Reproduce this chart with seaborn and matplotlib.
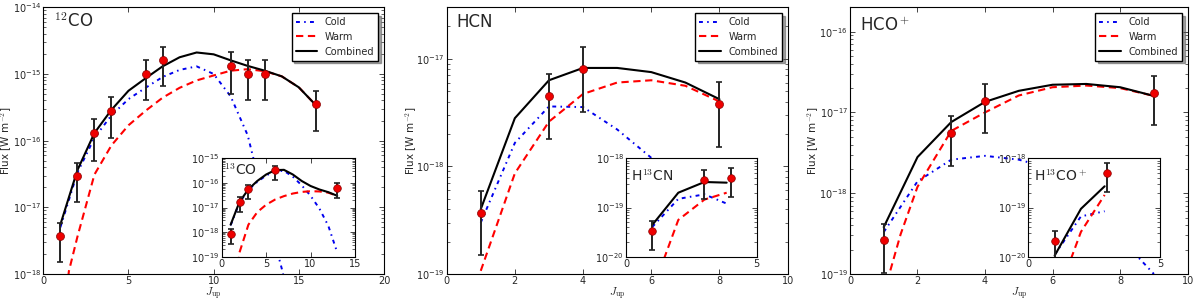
import numpy as np
import pandas as pd
import matplotlib
matplotlib.use("Agg")
import matplotlib.pyplot as plt
import seaborn as sns

sns.set_style("ticks", {"xtick.direction": "in", "ytick.direction": "in",
                        "axes.edgecolor": "black"})
plt.rcParams["font.family"] = ["DejaVu Sans"]
plt.rcParams["mathtext.fontset"] = "cm"

# ---------------- 12CO (main panel 1) ----------------
co12_obs_j = [1, 2, 3, 4, 6, 7, 11, 12, 13, 16]
co12_obs_f = [3.7e-18, 2.9e-17, 1.3e-16, 2.8e-16, 1.0e-15, 1.6e-15, 1.3e-15, 1.0e-15, 1.0e-15, 3.5e-16]
co12_obs_e = [2.2e-18, 1.7e-17, 8.0e-17, 1.7e-16, 6.0e-16, 9.5e-16, 8.0e-16, 6.0e-16, 6.0e-16, 2.1e-16]
co12_j = [1, 2, 3, 4, 5, 6, 7, 8, 9, 10, 11, 12, 13, 14, 15, 16]
co12_cold = [5.0e-18, 3.3e-17, 1.1e-16, 2.4e-16, 4.2e-16, 6.2e-16, 9.0e-16, 1.15e-15, 1.3e-15,
             1.0e-15, 4.6e-16, 1.2e-16, 1.1e-17, 1.2e-18, 1.0e-19, 8.0e-21]
co12_comb = [5.5e-18, 3.6e-17, 1.3e-16, 2.9e-16, 5.6e-16, 8.6e-16, 1.3e-15, 1.78e-15, 2.1e-15,
             1.97e-15, 1.6e-15, 1.32e-15, 1.12e-15, 9.2e-16, 6.3e-16, 3.4e-16]
co12_warm_j = [1.2, 1.5, 2, 3, 4, 5, 6, 7, 8, 9, 10, 11, 12, 13, 14, 15, 16]
co12_warm = [2.0e-19, 1.1e-18, 3.6e-18, 3.1e-17, 8.5e-17, 1.7e-16, 2.8e-16, 4.4e-16, 6.2e-16,
             8.0e-16, 9.5e-16, 1.12e-15, 1.18e-15, 1.1e-15, 9.2e-16, 6.3e-16, 3.4e-16]

# ---------------- 13CO (inset 1) ----------------
co13_obs_j = [1, 2, 3, 6, 13]
co13_obs_f = [8.0e-19, 1.6e-17, 5.4e-17, 3.2e-16, 6.0e-17]
co13_obs_e = [4.8e-19, 9.6e-18, 3.2e-17, 1.9e-16, 3.6e-17]
co13_j = [1, 2, 3, 4, 5, 6, 7, 8, 9, 10, 11, 12, 13]
co13_cold = [1.9e-18, 1.6e-17, 5.2e-17, 1.1e-16, 2.0e-16, 3.0e-16, 3.1e-16, 1.8e-16, 8.0e-17,
             3.0e-17, 9.0e-18, 1.8e-18, 1.5e-19]
co13_comb = [2.0e-18, 1.7e-17, 5.5e-17, 1.2e-16, 2.2e-16, 3.3e-16, 3.4e-16, 2.2e-16, 1.2e-16,
             7.5e-17, 5.4e-17, 4.2e-17, 3.0e-17]
co13_warm_j = [1.85, 2, 3, 4, 5, 6, 7, 8, 9, 10, 11, 12, 13]
co13_warm = [5.0e-20, 1.5e-19, 2.0e-18, 6.5e-18, 1.3e-17, 2.1e-17, 2.9e-17, 3.7e-17, 4.3e-17,
             4.6e-17, 4.5e-17, 4.0e-17, 3.0e-17]

# ---------------- HCN (main panel 2) ----------------
hcn_obs_j = [1, 3, 4, 8]
hcn_obs_f = [3.7e-19, 4.5e-18, 8.0e-18, 3.8e-18]
hcn_obs_e = [2.2e-19, 2.7e-18, 4.8e-18, 2.3e-18]
hcn_j = [1, 2, 3, 4, 5, 6, 7, 8]
hcn_cold = [3.0e-19, 1.65e-18, 3.6e-18, 3.55e-18, 2.2e-18, 1.2e-18, 6.0e-19, 3.0e-19]
hcn_warm = [1.07e-19, 8.6e-19, 2.6e-18, 4.7e-18, 6.0e-18, 6.3e-18, 5.6e-18, 4.0e-18]
hcn_comb = [4.0e-19, 2.8e-18, 6.3e-18, 8.2e-18, 8.2e-18, 7.5e-18, 6.0e-18, 4.2e-18]

# ---------------- H13CN (inset 2) ----------------
h13cn_obs_j = [1, 3, 4]
h13cn_obs_f = [3.4e-20, 3.7e-19, 4.0e-19]
h13cn_obs_e = [2.0e-20, 2.2e-19, 2.4e-19]
h13cn_j = [1, 2, 3, 3.85]
h13cn_cold = [4.0e-20, 1.5e-19, 1.85e-19, 1.2e-19]
h13cn_comb = [4.4e-20, 2.0e-19, 3.3e-19, 3.2e-19]
h13cn_warm_j = [1.45, 2, 3, 3.85]
h13cn_warm = [9.0e-21, 5.6e-20, 1.45e-19, 2.0e-19]

# ---------------- HCO+ (main panel 3) ----------------
hcop_obs_j = [1, 3, 4, 9]
hcop_obs_f = [2.6e-19, 5.6e-18, 1.4e-17, 1.75e-17]
hcop_obs_e = [1.56e-19, 3.4e-18, 8.4e-18, 1.05e-17]
hcop_j = [1, 2, 3, 4, 5, 6, 7, 8, 9]
hcop_cold = [3.3e-19, 1.4e-18, 2.6e-18, 2.9e-18, 2.6e-18, 2.0e-18, 1.1e-18, 2.8e-19, 1.0e-19]
hcop_comb = [3.8e-19, 2.8e-18, 7.6e-18, 1.35e-17, 1.85e-17, 2.2e-17, 2.25e-17, 2.05e-17, 1.6e-17]
hcop_warm_j = [1.1, 1.5, 2, 3, 4, 5, 6, 7, 8, 9]
hcop_warm = [8.0e-20, 3.1e-19, 1.2e-18, 5.9e-18, 1.0e-17, 1.62e-17, 2.05e-17, 2.15e-17, 2.0e-17, 1.6e-17]

# ---------------- H13CO+ (inset 3) ----------------
h13cop_obs_j = [1, 3]
h13cop_obs_f = [2.1e-20, 5.1e-19]
h13cop_obs_e = [1.3e-20, 3.0e-19]
h13cop_j = [1, 2, 2.9]
h13cop_cold = [1.1e-20, 6.6e-20, 8.4e-20]
h13cop_comb = [1.05e-20, 9.4e-20, 2.7e-19]
h13cop_warm_j = [1.62, 2, 2.9]
h13cop_warm = [9.0e-21, 3.2e-20, 1.8e-19]

COLD_LS = (0, (2.0, 2.2, 0.8, 2.2))
WARM_LS = (0, (3.5, 2.2))


def draw(ax, obs, cold, warm, comb, legend=False, ms=33):
    cj, cf = cold
    wj, wf = warm
    bj, bf = comb
    sns.lineplot(x=cj, y=cf, ax=ax, color="#0000ee", linestyle=COLD_LS, lw=1.4,
                 estimator=None, sort=False, label="Cold" if legend else None)
    sns.lineplot(x=wj, y=wf, ax=ax, color="#ff0000", linestyle=WARM_LS, lw=1.5,
                 estimator=None, sort=False, label="Warm" if legend else None)
    sns.lineplot(x=bj, y=bf, ax=ax, color="black", lw=1.5,
                 estimator=None, sort=False, label="Combined" if legend else None)
    oj, of, oe = obs
    ax.errorbar(oj, of, yerr=oe, fmt="none", ecolor="#222222", elinewidth=1.4,
                capsize=2.5, capthick=1.2, zorder=4)
    sns.scatterplot(x=oj, y=of, ax=ax, color="#ee0000", s=ms, edgecolor="#880000",
                    linewidth=0.5, zorder=5)
    ax.set_yscale("log")
    ax.tick_params(which="both", direction="in", top=True, right=True, labelsize=7, pad=1.5)
    ax.tick_params(which="major", length=3.5, width=0.6)
    ax.tick_params(which="minor", length=2, width=0.5)
    for s in ax.spines.values():
        s.set_linewidth(0.8)
    if legend:
        ax.legend(loc="upper right", fontsize=7, frameon=True, fancybox=False, shadow=True,
                  edgecolor="black", handlelength=2.2, borderaxespad=0.6, labelspacing=0.5)
    else:
        lg = ax.get_legend()
        if lg is not None:
            lg.remove()


fig = plt.figure(figsize=(12, 3), dpi=100)
bot, hgt = 0.0867, 0.889
ax1 = fig.add_axes([0.0361, bot, 0.2839, hgt])
ax2 = fig.add_axes([0.3722, bot, 0.2842, hgt])
ax3 = fig.add_axes([0.7083, bot, 0.2814, hgt])

ins_b, ins_h = 0.1443, 0.328
in1 = fig.add_axes([0.1848, ins_b, 0.111, ins_h], facecolor="white")
in2 = fig.add_axes([0.5217, ins_b, 0.1089, ins_h], facecolor="white")
in3 = fig.add_axes([0.8569, ins_b, 0.1097, ins_h], facecolor="white")

draw(ax1, (co12_obs_j, co12_obs_f, co12_obs_e), (co12_j, co12_cold),
     (co12_warm_j, co12_warm), (co12_j, co12_comb), legend=True)
ax1.set_xlim(0, 20)
ax1.set_ylim(1e-18, 1e-14)
ax1.set_xticks([0, 5, 10, 15, 20])
ax1.text(0.03, 0.945, r"$^{12}$CO", transform=ax1.transAxes, fontsize=12, va="center")

draw(ax2, (hcn_obs_j, hcn_obs_f, hcn_obs_e), (hcn_j, hcn_cold),
     (hcn_j, hcn_warm), (hcn_j, hcn_comb), legend=True)
ax2.set_xlim(0, 10)
ax2.set_ylim(1e-19, 3e-17)
ax2.set_xticks([0, 2, 4, 6, 8, 10])
ax2.text(0.03, 0.945, "HCN", transform=ax2.transAxes, fontsize=12, va="center")

draw(ax3, (hcop_obs_j, hcop_obs_f, hcop_obs_e), (hcop_j, hcop_cold),
     (hcop_warm_j, hcop_warm), (hcop_j, hcop_comb), legend=True)
ax3.set_xlim(0, 10)
ax3.set_ylim(1e-19, 2e-16)
ax3.set_xticks([0, 2, 4, 6, 8, 10])
ax3.text(0.03, 0.93, r"HCO$^+$", transform=ax3.transAxes, fontsize=12, va="center")

for ax, ylx in ((ax1, -0.108), (ax2, -0.105), (ax3, -0.11)):
    ax.set_xlabel(r"$J_{\rm up}$", fontsize=8)
    ax.set_ylabel(r"Flux [W m$^{-2}$]", fontsize=7.5, va="center")
    ax.xaxis.set_label_coords(0.5, -0.042)
    ax.yaxis.set_label_coords(ylx, 0.5)

draw(in1, (co13_obs_j, co13_obs_f, co13_obs_e), (co13_j, co13_cold),
     (co13_warm_j, co13_warm), (co13_j, co13_comb), ms=30)
in1.set_xlim(0, 15)
in1.set_ylim(1e-19, 1e-15)
in1.set_xticks([0, 5, 10, 15])
in1.text(0.02, 0.88, r"$^{13}$CO", transform=in1.transAxes, fontsize=10, va="center")

draw(in2, (h13cn_obs_j, h13cn_obs_f, h13cn_obs_e), (h13cn_j, h13cn_cold),
     (h13cn_warm_j, h13cn_warm), (h13cn_j, h13cn_comb), ms=30)
in2.set_xlim(0, 5)
in2.set_ylim(1e-20, 1e-18)
in2.set_xticks([0, 5])
in2.text(0.04, 0.82, r"H$^{13}$CN", transform=in2.transAxes, fontsize=10, va="center")

draw(in3, (h13cop_obs_j, h13cop_obs_f, h13cop_obs_e), (h13cop_j, h13cop_cold),
     (h13cop_warm_j, h13cop_warm), (h13cop_j, h13cop_comb), ms=30)
in3.set_xlim(0, 5)
in3.set_ylim(1e-20, 1e-18)
in3.set_xticks([0, 5])
in3.text(0.04, 0.82, r"H$^{13}$CO$^+$", transform=in3.transAxes, fontsize=10, va="center")

for ax in (in1, in2, in3):
    ax.set_xlabel("")
    ax.set_ylabel("")
    ax.tick_params(labelsize=7, pad=1.5)

fig.savefig("out.png", dpi=100)
